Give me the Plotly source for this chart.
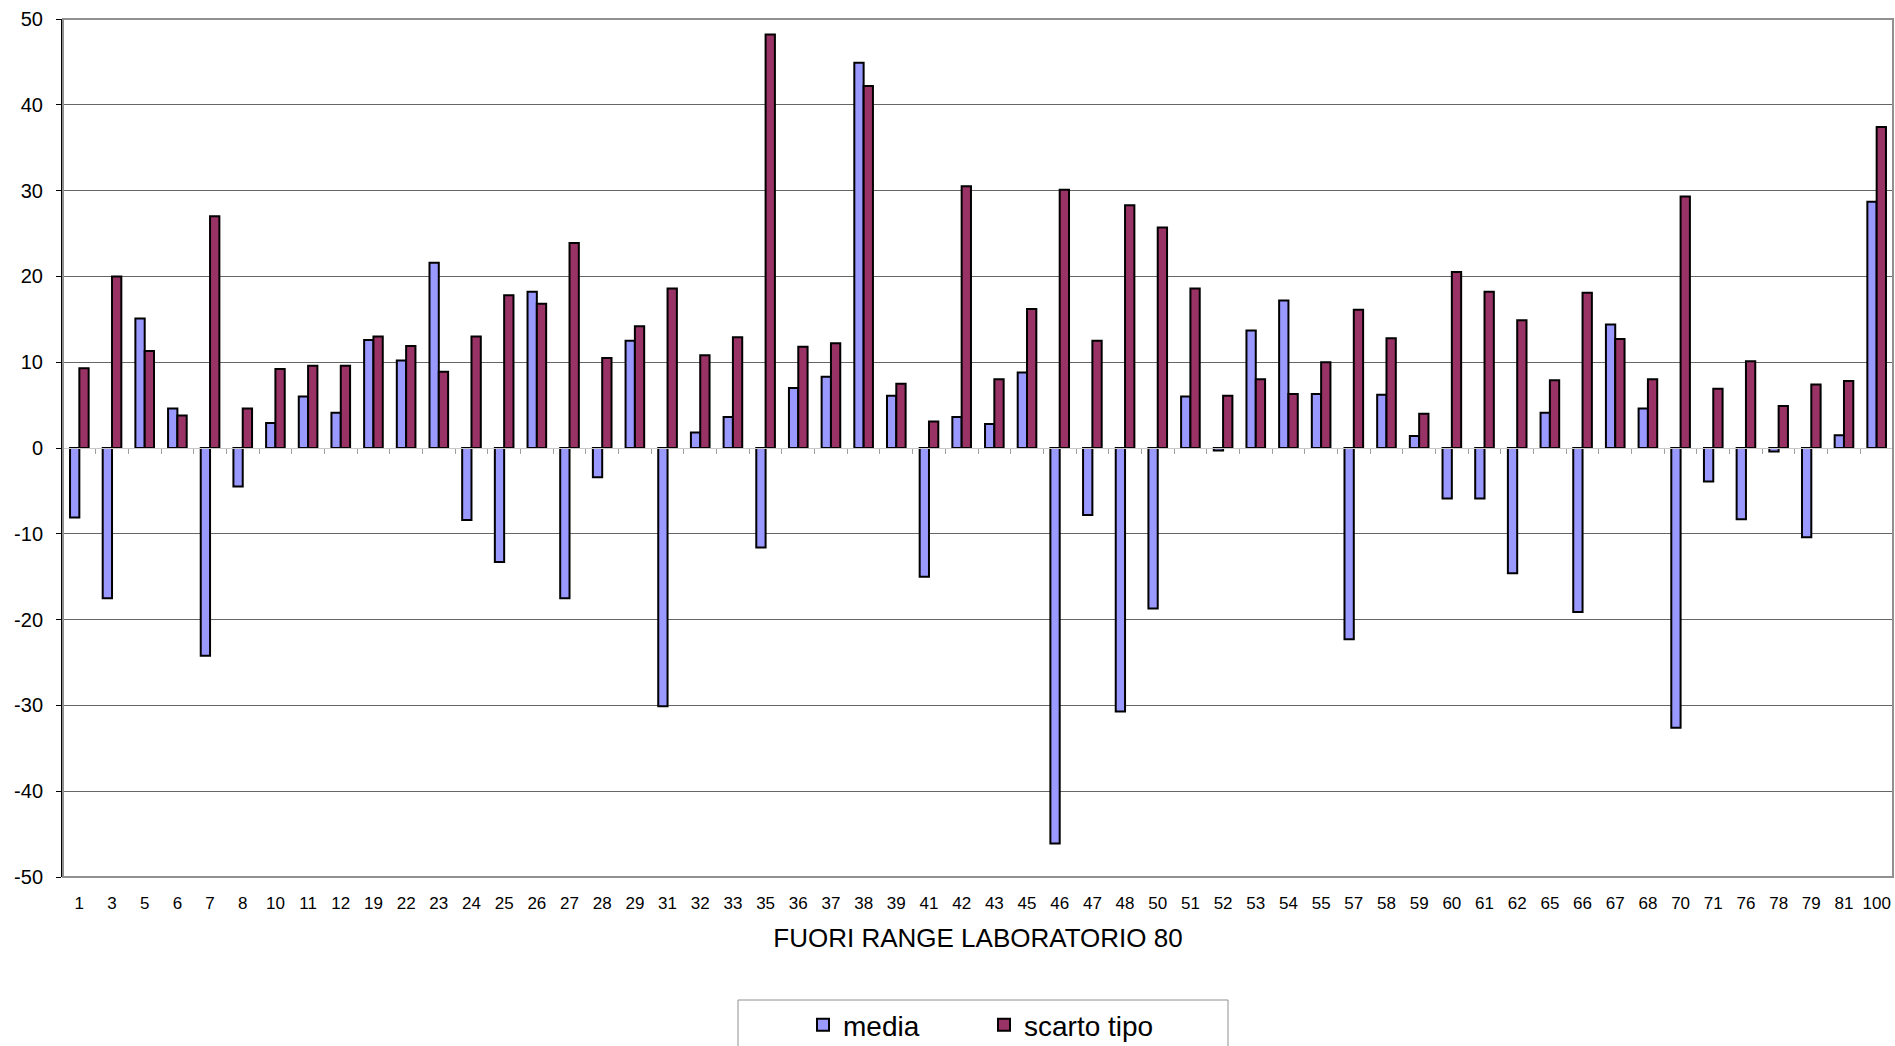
import plotly.graph_objects as go

categories = ["1", "3", "5", "6", "7", "8", "10", "11", "12", "19", "22", "23", "24", "25", "26", "27",
              "28", "29", "31", "32", "33", "35", "36", "37", "38", "39", "41", "42", "43", "45", "46",
              "47", "48", "50", "51", "52", "53", "54", "55", "57", "58", "59", "60", "61", "62", "65",
              "66", "67", "68", "70", "71", "76", "78", "79", "81", "100"]

media = [-8.1, -17.5, 15.1, 4.6, -24.2, -4.5, 2.9, 6.0, 4.1, 12.6, 10.2, 21.6, -8.4, -13.3, 18.2, -17.5,
         -3.4, 12.5, -30.1, 1.8, 3.6, -11.6, 7.0, 8.3, 44.9, 6.1, -15.0, 3.6, 2.8, 8.8, -46.1,
         -7.8, -30.7, -18.7, 6.0, -0.3, 13.7, 17.2, 6.3, -22.3, 6.2, 1.4, -5.9, -5.9, -14.6, 4.1,
         -19.1, 14.4, 4.6, -32.6, -3.9, -8.3, -0.4, -10.4, 1.5, 28.7]

scarto_tipo = [9.3, 20.0, 11.3, 3.8, 27.0, 4.6, 9.2, 9.6, 9.6, 13.0, 11.9, 8.9, 13.0, 17.8, 16.8, 23.9,
               10.5, 14.2, 18.6, 10.8, 12.9, 48.2, 11.8, 12.2, 42.2, 7.5, 3.1, 30.5, 8.0, 16.2, 30.1,
               12.5, 28.3, 25.7, 18.6, 6.1, 8.0, 6.3, 10.0, 16.1, 12.8, 4.0, 20.5, 18.2, 14.9, 7.9,
               18.1, 12.7, 8.0, 29.3, 6.9, 10.1, 4.9, 7.4, 7.8, 37.4]

series_names = ["media", "scarto tipo"]
series_colors = ["#9999FF", "#993366"]

y_ticks = [-50, -40, -30, -20, -10, 0, 10, 20, 30, 40, 50]
y_tick_text = [str(v) for v in y_ticks]

FONT = "Liberation Sans, Arial, sans-serif"

W, H = 1895, 1046
ML, MR, MT, MB = 63, 2, 19, 169
PW, PH = W - ML - MR, H - MT - MB


def px_x(x):
    return (x - ML) / PW


def px_y(y):
    return (H - MB - y) / PH


fig = go.Figure()
for name, vals, col in zip(series_names, [media, scarto_tipo], series_colors):
    fig.add_trace(go.Bar(x=categories, y=vals, name=name, showlegend=False, legendgroup=name,
                         marker=dict(color=col, line=dict(color="black", width=2))))

# legend entries with square swatches (like the original)
for name, col in zip(series_names, series_colors):
    fig.add_trace(go.Scatter(x=[None], y=[None], name=name, mode="markers", legendgroup=name,
                             marker=dict(symbol="square", size=12, color=col,
                                         line=dict(color="black", width=2)),
                             hoverinfo="skip"))

# invisible helper trace to render the category axis crossing at zero
fig.add_trace(go.Scatter(x=[0], y=[0], xaxis="x2", mode="markers",
                         marker=dict(opacity=0), showlegend=False, hoverinfo="skip"))

n = len(categories)
fig.update_layout(
    width=W, height=H,
    margin=dict(l=ML, r=MR, t=MT, b=MB, autoexpand=False),
    paper_bgcolor="white", plot_bgcolor="white",
    font=dict(family=FONT, color="black"),
    barmode="group", bargap=0.43, bargroupgap=0,
    showlegend=True,
    legend=dict(orientation="h", x=px_x(803), xanchor="left", y=px_y(1000), yanchor="top",
                font=dict(size=28, family=FONT), borderwidth=0,
                bgcolor="rgba(0,0,0,0)", entrywidth=136, itemwidth=30),
    xaxis=dict(type="category", categoryorder="array", categoryarray=categories,
               range=[-0.5, n - 0.5],
               showgrid=False, zeroline=False, showline=False, ticks="",
               tickfont=dict(size=17, family=FONT), ticklabelstandoff=14,
               title=dict(text="FUORI RANGE LABORATORIO 80", font=dict(size=26, family=FONT),
                          standoff=16)),
    xaxis2=dict(overlaying="x", anchor="free", position=0.5, type="linear",
                range=[-0.5, n - 0.5], tick0=-0.5, dtick=1, ticks="outside", ticklen=5,
                tickcolor="#a0a0a0", showticklabels=False, showgrid=False, zeroline=False,
                showline=True, linecolor="#c8c8c8", linewidth=1),
    yaxis=dict(range=[-50, 50], tickvals=y_ticks, ticktext=y_tick_text,
               showgrid=True, gridcolor="#666666",
               gridwidth=1, zeroline=False, showline=True, linecolor="black", linewidth=2,
               ticks="outside", ticklen=5, tickcolor="black",
               tickfont=dict(size=20, family=FONT), ticklabelstandoff=9),
    shapes=[
        dict(type="rect", xref="paper", yref="paper", x0=0, x1=1, y0=0, y1=1,
             line=dict(color="#909090", width=2), layer="above"),
        dict(type="rect", xref="paper", yref="paper", x0=px_x(738), x1=px_x(1228),
             y0=px_y(1000), y1=px_y(1080), line=dict(color="#909090", width=1), layer="below"),
    ],
)

fig.write_html("out.html", config={"displayModeBar": False},
               post_script="document.body.style.margin='0';document.body.style.overflow='hidden';")
